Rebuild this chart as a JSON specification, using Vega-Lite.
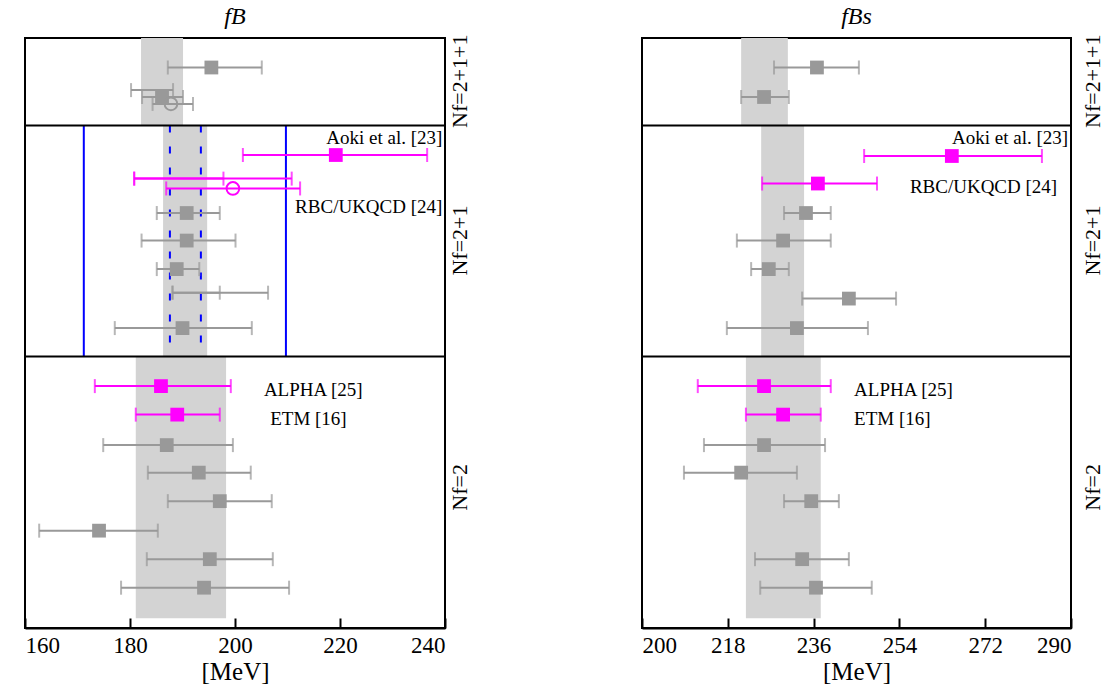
{
  "$schema": "https://vega.github.io/schema/vega-lite/v6.json",
  "padding": {"left": 23, "top": 3, "right": 0, "bottom": 0},
  "config": {
    "font": "Liberation Serif",
    "view": {"stroke": "black", "strokeWidth": 2},
    "axis": {"labelFont": "Liberation Serif", "titleFont": "Liberation Serif", "labelFontSize": 23, "titleFontSize": 25, "titleFontWeight": "normal", "grid": false, "domainColor": "black", "domainWidth": 2, "tickColor": "black", "labelColor": "black", "titleColor": "black", "tickSize": -10, "tickWidth": 2, "labelPadding": 16, "titlePadding": 2},
    "title": {"font": "Liberation Serif", "fontSize": 24, "fontStyle": "italic", "fontWeight": "normal", "offset": 6}
  },
  "datasets": {
    "pts": [
      {"p": "L", "y": 30, "c": 195.5, "lo": 187.2, "hi": 205.1, "m": "sq", "col": "g"},
      {"p": "L", "y": 53, "c": 186, "lo": 180.2, "hi": 188.2, "m": "none", "col": "g"},
      {"p": "L", "y": 60, "c": 186.1, "lo": 182.3, "hi": 190.1, "m": "sq", "col": "g"},
      {"p": "L", "y": 67, "c": 187.8, "lo": 184.3, "hi": 192, "m": "circ", "col": "g"},
      {"p": "L", "y": 119, "c": 219.2, "lo": 201.5, "hi": 236.6, "m": "sq", "col": "m"},
      {"p": "L", "y": 143, "c": 195, "lo": 180.8, "hi": 210.8, "m": "none", "col": "m"},
      {"p": "L", "y": 143, "c": 190, "lo": 180.8, "hi": 197.8, "m": "none", "col": "m"},
      {"p": "L", "y": 153, "c": 199.6, "lo": 186.9, "hi": 212.4, "m": "circ", "col": "m"},
      {"p": "L", "y": 178, "c": 190.8, "lo": 185.1, "hi": 197.1, "m": "sq", "col": "g"},
      {"p": "L", "y": 206, "c": 190.8, "lo": 182.2, "hi": 200.1, "m": "sq", "col": "g"},
      {"p": "L", "y": 235, "c": 188.9, "lo": 185.1, "hi": 193.2, "m": "sq", "col": "g"},
      {"p": "L", "y": 259, "c": 195, "lo": 188.1, "hi": 206.3, "m": "none", "col": "g"},
      {"p": "L", "y": 259, "c": 193, "lo": 188.1, "hi": 197.1, "m": "none", "col": "g"},
      {"p": "L", "y": 295, "c": 190, "lo": 177.1, "hi": 203.2, "m": "sq", "col": "g"},
      {"p": "L", "y": 354, "c": 185.9, "lo": 173.3, "hi": 199.2, "m": "sq", "col": "m"},
      {"p": "L", "y": 383, "c": 189, "lo": 181.1, "hi": 197.1, "m": "sq", "col": "m"},
      {"p": "L", "y": 414, "c": 187, "lo": 174.9, "hi": 199.6, "m": "sq", "col": "g"},
      {"p": "L", "y": 442, "c": 193.1, "lo": 183.4, "hi": 203, "m": "sq", "col": "g"},
      {"p": "L", "y": 471, "c": 197.1, "lo": 187.2, "hi": 207, "m": "sq", "col": "g"},
      {"p": "L", "y": 501, "c": 174.1, "lo": 162.7, "hi": 185.3, "m": "sq", "col": "g"},
      {"p": "L", "y": 530, "c": 195.2, "lo": 183.2, "hi": 207.2, "m": "sq", "col": "g"},
      {"p": "L", "y": 559, "c": 194.1, "lo": 178.3, "hi": 210.3, "m": "sq", "col": "g"},
      {"p": "R", "y": 30, "c": 236.7, "lo": 227.7, "hi": 245.5, "m": "sq", "col": "g"},
      {"p": "R", "y": 60, "c": 225.6, "lo": 220.8, "hi": 230.8, "m": "sq", "col": "g"},
      {"p": "R", "y": 120, "c": 265, "lo": 246.6, "hi": 283.9, "m": "sq", "col": "m"},
      {"p": "R", "y": 148, "c": 236.9, "lo": 225.2, "hi": 249.3, "m": "sq", "col": "m"},
      {"p": "R", "y": 178, "c": 234.4, "lo": 229.8, "hi": 239.6, "m": "sq", "col": "g"},
      {"p": "R", "y": 206, "c": 229.6, "lo": 219.9, "hi": 239.6, "m": "sq", "col": "g"},
      {"p": "R", "y": 235, "c": 226.6, "lo": 222.9, "hi": 230.8, "m": "sq", "col": "g"},
      {"p": "R", "y": 265, "c": 243.4, "lo": 233.6, "hi": 253.3, "m": "sq", "col": "g"},
      {"p": "R", "y": 295, "c": 232.5, "lo": 217.8, "hi": 247.4, "m": "sq", "col": "g"},
      {"p": "R", "y": 354, "c": 225.6, "lo": 211.7, "hi": 239.6, "m": "sq", "col": "m"},
      {"p": "R", "y": 383, "c": 229.6, "lo": 221.8, "hi": 237.5, "m": "sq", "col": "m"},
      {"p": "R", "y": 414, "c": 225.6, "lo": 213, "hi": 238.4, "m": "sq", "col": "g"},
      {"p": "R", "y": 442, "c": 220.8, "lo": 208.8, "hi": 232.5, "m": "sq", "col": "g"},
      {"p": "R", "y": 471, "c": 235.5, "lo": 229.8, "hi": 241.3, "m": "sq", "col": "g"},
      {"p": "R", "y": 530, "c": 233.6, "lo": 223.7, "hi": 243.4, "m": "sq", "col": "g"},
      {"p": "R", "y": 559, "c": 236.5, "lo": 224.8, "hi": 248.2, "m": "sq", "col": "g"}
    ],
    "bands": [
      {"p": "L", "y": 0, "y2": 89, "lo": 182.1, "hi": 190.1},
      {"p": "L", "y": 89, "y2": 324, "lo": 186.3, "hi": 194.7},
      {"p": "L", "y": 324, "y2": 590, "lo": 181.1, "hi": 198.3},
      {"p": "R", "y": 0, "y2": 89, "lo": 220.8, "hi": 230.6},
      {"p": "R", "y": 89, "y2": 324, "lo": 225, "hi": 234},
      {"p": "R", "y": 324, "y2": 590, "lo": 221.8, "hi": 237.5}
    ],
    "labels": [
      {"p": "L", "x": 239.5, "y": 102, "t": "Aoki et al. [23]", "a": "right"},
      {"p": "L", "x": 239.5, "y": 172, "t": "RBC/UKQCD [24]", "a": "right"},
      {"p": "L", "x": 205.5, "y": 358, "t": "ALPHA [25]", "a": "left"},
      {"p": "L", "x": 206.7, "y": 387, "t": "ETM [16]", "a": "left"},
      {"p": "R", "x": 289.4, "y": 102, "t": "Aoki et al. [23]", "a": "right"},
      {"p": "R", "x": 287.1, "y": 152, "t": "RBC/UKQCD [24]", "a": "right"},
      {"p": "R", "x": 244.5, "y": 358, "t": "ALPHA [25]", "a": "left"},
      {"p": "R", "x": 244.5, "y": 387, "t": "ETM [16]", "a": "left"}
    ],
    "sections": [
      {"p": "L", "x": 242.8, "y": 44, "t": "Nf=2+1+1"},
      {"p": "L", "x": 242.8, "y": 206, "t": "Nf=2+1"},
      {"p": "L", "x": 242.8, "y": 457, "t": "Nf=2"},
      {"p": "R", "x": 294.6, "y": 44, "t": "Nf=2+1+1"},
      {"p": "R", "x": 294.6, "y": 206, "t": "Nf=2+1"},
      {"p": "R", "x": 294.6, "y": 457, "t": "Nf=2"}
    ],
    "divs": [{"y": 89}, {"y": 324}],
    "blue": [
      {"x": 171.2, "d": "solid"}, {"x": 209.7, "d": "solid"},
      {"x": 187.6, "d": "dash"}, {"x": 193.5, "d": "dash"}
    ]
  },
  "spacing": 168,
  "hconcat": [
    {
      "title": "fB",
      "width": 420,
      "height": 590,
      "layer": [
        {"data": {"name": "bands"}, "transform": [{"filter": "datum.p == 'L'"}], "mark": {"type": "rect", "color": "#d3d3d3"},
         "encoding": {"x": {"field": "lo", "type": "quantitative", "scale": {"domain": [160, 240]}, "axis": {"values": [160, 180, 200, 220, 240], "title": "[MeV]"}}, "x2": {"field": "hi"},
           "y": {"field": "y", "type": "quantitative", "scale": {"domain": [0, 590], "reverse": true}, "axis": null}, "y2": {"field": "y2"}}},
        {"data": {"name": "blue"}, "mark": {"type": "rule", "color": "blue", "strokeWidth": 2},
         "encoding": {"x": {"field": "x", "type": "quantitative"}, "y": {"datum": 89, "type": "quantitative"}, "y2": {"datum": 324},
           "strokeDash": {"field": "d", "type": "nominal", "scale": {"domain": ["solid", "dash"], "range": [[1, 0], [7, 14]]}, "legend": null}}},
        {"data": {"name": "divs"}, "mark": {"type": "rule", "color": "black", "strokeWidth": 2},
         "encoding": {"y": {"field": "y", "type": "quantitative"}}},
        {"data": {"name": "pts"}, "transform": [{"filter": "datum.p == 'L'"}], "mark": {"type": "rule", "strokeWidth": 2},
         "encoding": {"x": {"field": "lo", "type": "quantitative"}, "x2": {"field": "hi"}, "y": {"field": "y", "type": "quantitative"},
           "color": {"field": "col", "type": "nominal", "scale": {"domain": ["g", "m"], "range": ["#999999", "#ff00ff"]}, "legend": null}}},
        {"data": {"name": "pts"}, "transform": [{"filter": "datum.p == 'L'"}, {"fold": ["lo", "hi"], "as": ["k", "v"]}], "mark": {"type": "tick", "orient": "vertical", "size": 14, "thickness": 2},
         "encoding": {"x": {"field": "v", "type": "quantitative"}, "y": {"field": "y", "type": "quantitative"},
           "color": {"field": "col", "type": "nominal", "legend": null}}},
        {"data": {"name": "pts"}, "transform": [{"filter": "datum.p == 'L' && datum.m == 'sq'"}], "mark": {"type": "square", "size": 190, "opacity": 1},
         "encoding": {"x": {"field": "c", "type": "quantitative"}, "y": {"field": "y", "type": "quantitative"},
           "color": {"field": "col", "type": "nominal", "legend": null}}},
        {"data": {"name": "pts"}, "transform": [{"filter": "datum.p == 'L' && datum.m == 'circ'"}], "mark": {"type": "point", "shape": "circle", "size": 160, "strokeWidth": 2, "filled": false, "opacity": 1},
         "encoding": {"x": {"field": "c", "type": "quantitative"}, "y": {"field": "y", "type": "quantitative"},
           "color": {"field": "col", "type": "nominal", "legend": null}}},
        {"data": {"name": "labels"}, "transform": [{"filter": "datum.p == 'L' && datum.a == 'right'"}], "mark": {"type": "text", "fontSize": 19, "baseline": "middle", "align": "right"},
         "encoding": {"x": {"field": "x", "type": "quantitative"}, "y": {"field": "y", "type": "quantitative"}, "text": {"field": "t"}}},
        {"data": {"name": "labels"}, "transform": [{"filter": "datum.p == 'L' && datum.a == 'left'"}], "mark": {"type": "text", "fontSize": 19, "baseline": "middle", "align": "left"},
         "encoding": {"x": {"field": "x", "type": "quantitative"}, "y": {"field": "y", "type": "quantitative"}, "text": {"field": "t"}}},
        {"data": {"name": "sections"}, "transform": [{"filter": "datum.p == 'L'"}], "mark": {"type": "text", "fontSize": 22, "angle": 270, "align": "center", "baseline": "middle", "clip": false},
         "encoding": {"x": {"field": "x", "type": "quantitative"}, "y": {"field": "y", "type": "quantitative"}, "text": {"field": "t"}}}
      ]
    },
    {
      "title": "fBs",
      "width": 429,
      "height": 590,
      "layer": [
        {"data": {"name": "bands"}, "transform": [{"filter": "datum.p == 'R'"}], "mark": {"type": "rect", "color": "#d3d3d3"},
         "encoding": {"x": {"field": "lo", "type": "quantitative", "scale": {"domain": [200, 290]}, "axis": {"values": [200, 218, 236, 254, 272, 290], "title": "[MeV]"}}, "x2": {"field": "hi"},
           "y": {"field": "y", "type": "quantitative", "scale": {"domain": [0, 590], "reverse": true}, "axis": null}, "y2": {"field": "y2"}}},
        {"data": {"name": "divs"}, "mark": {"type": "rule", "color": "black", "strokeWidth": 2},
         "encoding": {"y": {"field": "y", "type": "quantitative"}}},
        {"data": {"name": "pts"}, "transform": [{"filter": "datum.p == 'R'"}], "mark": {"type": "rule", "strokeWidth": 2},
         "encoding": {"x": {"field": "lo", "type": "quantitative"}, "x2": {"field": "hi"}, "y": {"field": "y", "type": "quantitative"},
           "color": {"field": "col", "type": "nominal", "scale": {"domain": ["g", "m"], "range": ["#999999", "#ff00ff"]}, "legend": null}}},
        {"data": {"name": "pts"}, "transform": [{"filter": "datum.p == 'R'"}, {"fold": ["lo", "hi"], "as": ["k", "v"]}], "mark": {"type": "tick", "orient": "vertical", "size": 14, "thickness": 2},
         "encoding": {"x": {"field": "v", "type": "quantitative"}, "y": {"field": "y", "type": "quantitative"},
           "color": {"field": "col", "type": "nominal", "legend": null}}},
        {"data": {"name": "pts"}, "transform": [{"filter": "datum.p == 'R' && datum.m == 'sq'"}], "mark": {"type": "square", "size": 190, "opacity": 1},
         "encoding": {"x": {"field": "c", "type": "quantitative"}, "y": {"field": "y", "type": "quantitative"},
           "color": {"field": "col", "type": "nominal", "legend": null}}},
        {"data": {"name": "labels"}, "transform": [{"filter": "datum.p == 'R' && datum.a == 'right'"}], "mark": {"type": "text", "fontSize": 19, "baseline": "middle", "align": "right"},
         "encoding": {"x": {"field": "x", "type": "quantitative"}, "y": {"field": "y", "type": "quantitative"}, "text": {"field": "t"}}},
        {"data": {"name": "labels"}, "transform": [{"filter": "datum.p == 'R' && datum.a == 'left'"}], "mark": {"type": "text", "fontSize": 19, "baseline": "middle", "align": "left"},
         "encoding": {"x": {"field": "x", "type": "quantitative"}, "y": {"field": "y", "type": "quantitative"}, "text": {"field": "t"}}},
        {"data": {"name": "sections"}, "transform": [{"filter": "datum.p == 'R'"}], "mark": {"type": "text", "fontSize": 22, "angle": 270, "align": "center", "baseline": "middle", "clip": false},
         "encoding": {"x": {"field": "x", "type": "quantitative"}, "y": {"field": "y", "type": "quantitative"}, "text": {"field": "t"}}}
      ]
    }
  ]
}
